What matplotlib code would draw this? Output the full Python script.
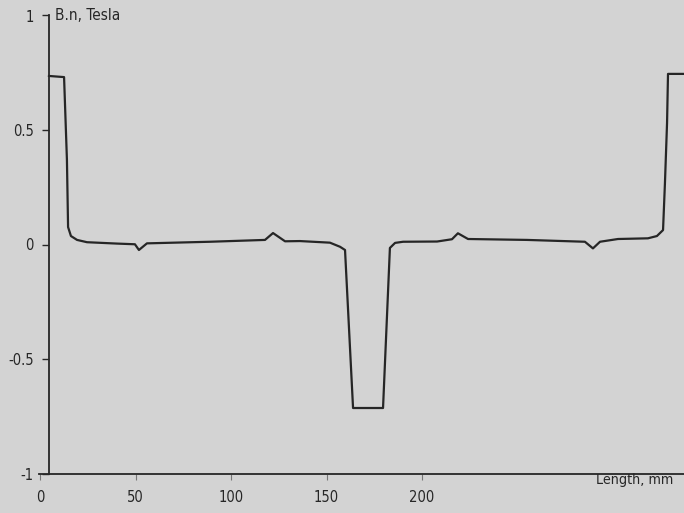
import matplotlib
matplotlib.use('Agg')
import matplotlib.pyplot as plt

# B.n along the contour
length_mm = [4.7, 12.6, 14.1, 14.7, 16.2, 19.4, 24.6, 40.3, 49.7, 51.8, 56.0,
             89.0, 117.8, 122.0, 128.3, 136.1, 151.8, 157.1, 159.7, 163.9,
             179.6, 183.2, 185.9, 190.1, 207.9, 215.7, 218.8, 224.1, 255.0,
             285.3, 289.5, 293.2, 302.6, 318.3, 323.0, 326.2, 327.2, 328.3,
             328.8, 345.0]
bn_tesla = [0.736, 0.731, 0.369, 0.076, 0.037, 0.020, 0.010, 0.004, 0.001,
            -0.024, 0.005, 0.012, 0.020, 0.050, 0.014, 0.015, 0.008, -0.010,
            -0.024, -0.714, -0.714, -0.015, 0.007, 0.012, 0.013, 0.023, 0.049,
            0.024, 0.020, 0.012, -0.017, 0.012, 0.024, 0.027, 0.037, 0.063,
            0.269, 0.531, 0.745, 0.745]

x_ticks = [0, 50, 100, 150, 200]
y_ticks = [-1, -0.5, 0, 0.5, 1]
y_labels = ['-1', '-0.5', '0', '0.5', '1']

plt.rcParams['font.family'] = ['DejaVu Sans']
plt.rcParams['font.stretch'] = 'condensed'

bg = '#d3d3d3'
ink = '#262626'

fig = plt.figure(figsize=(6.84, 5.13), dpi=100, facecolor=bg)
ax = fig.add_axes([0, 0, 1, 1], facecolor=bg)

ax.plot(length_mm, bn_tesla, color=ink, lw=1.6, solid_joinstyle='round')

# pixel mapping of the original: x0 at 40 px, 1.91 px/mm; y0 at 244.5 px, 229 px/T
ax.set_xlim(-40 / 1.91, 644 / 1.91)
ax.set_ylim((244.5 - 513) / 229, 244.5 / 229)

for s in ['top', 'right']:
    ax.spines[s].set_visible(False)
ax.spines['left'].set_position(('data', 4.7))
ax.spines['left'].set_bounds(-1, 1)
ax.spines['bottom'].set_position(('data', -1))
ax.spines['bottom'].set_bounds(-0.5, 340)
for s in ['left', 'bottom']:
    ax.spines[s].set_color(ink)
    ax.spines[s].set_linewidth(1.3)

ax.set_yticks(y_ticks)
ax.set_yticklabels(y_labels)
ax.set_xticks(x_ticks)
ax.tick_params(axis='y', direction='out', length=5, width=1, color=ink,
               pad=6, labelsize=10.5, labelcolor=ink)
ax.tick_params(axis='x', direction='out', length=4, width=0.8, color='#777777',
               pad=8, labelsize=10.5, labelcolor=ink)

ax.text(7.9, 1.0, 'B.n, Tesla', fontsize=11, color=ink,
        ha='left', va='center')
ax.text(291, -1.03, 'Length, mm', fontsize=10.3, color=ink,
        ha='left', va='center')

fig.savefig('out.png', dpi=100, facecolor=bg)
